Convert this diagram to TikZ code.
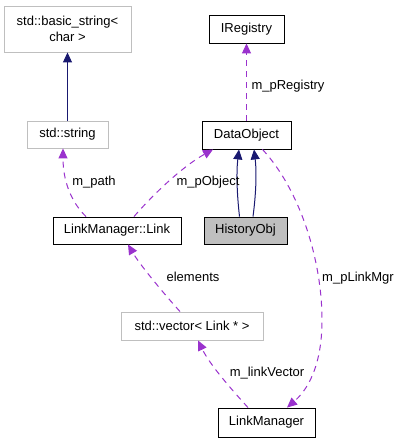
\documentclass[tikz,border=0pt]{standalone}
\usepackage{fontspec}
\setmainfont{Liberation Sans}
\usetikzlibrary{arrows.meta}
\definecolor{edgeblue}{HTML}{191970}
\definecolor{edgepurple}{HTML}{9A32CD}
\definecolor{boxgray}{HTML}{BFBFBF}

\begin{document}
\begin{tikzpicture}[x=1pt,y=-1pt,
    font=\fontsize{13}{15.5}\selectfont,
    cls/.style={draw=black,line width=0.9pt,fill=white,inner sep=0pt,align=center},
    ext/.style={cls,draw=boxgray},
    inh/.style={draw=edgeblue,line width=1pt,-{Triangle[length=10pt,width=9pt]}},
    use/.style={draw=edgepurple,line width=1pt,dash pattern=on 6pt off 5pt,
        -{Triangle[length=10pt,width=9pt]}},
    lbl/.style={inner sep=0pt}]
    \useasboundingbox (0,0) rectangle (400,443);

    % classes
    \node[ext,minimum width=127pt,minimum height=46pt] (basicstr) at (67.5,29) {std::basic\_string<\\char >};
    \node[ext,minimum width=81pt,minimum height=27pt] (stdstr) at (67.5,134.5) {std::string};
    \node[cls,minimum width=75pt,minimum height=28pt] (ireg) at (246.5,29) {IRegistry};
    \node[cls,minimum width=89pt,minimum height=28pt] (dataobj) at (246.5,135) {DataObject};
    \node[cls,minimum width=128pt,minimum height=27pt] (link) at (117,230.5) {LinkManager::Link};
    \node[cls,fill=boxgray,minimum width=83pt,minimum height=27pt] (histobj) at (245.5,230.5) {HistoryObj};
    \node[ext,minimum width=142pt,minimum height=28pt] (linkvec) at (192,326) {std::vector< Link * >};
    \node[cls,minimum width=97pt,minimum height=29pt] (linkmgr) at (266.5,422.5) {LinkManager};

    % inheritance
    \draw[inh] (stdstr) -- (basicstr);
    \draw[inh] ([xshift=-6pt]histobj.north) .. controls (236.5,190) and (236.5,170) .. ([xshift=-7.5pt]dataobj.south);
    \draw[inh] ([xshift=7.5pt]histobj.north) .. controls (256.5,190) and (256.5,170) .. ([xshift=7.5pt]dataobj.south);

    % members
    \draw[use] (dataobj) -- (ireg);
    \node[lbl] (lreg) at (288,86) {m\_pRegistry};
    \draw[use] ([xshift=-31pt]link.north) .. controls (74,205) and (63,185) .. ([xshift=-4.5pt]stdstr.south);
    \node[lbl] (lpath) at (94,182) {m\_path};
    \draw[use] ([xshift=17pt]link.north) .. controls (150,198) and (180,168) .. ([xshift=-33.5pt]dataobj.south);
    \node[lbl] (lobj) at (208,182) {m\_pObject};
    \draw[use] ([xshift=-12pt]linkvec.north) .. controls (165,295) and (140,265) .. ([xshift=11pt]link.south);
    \node[lbl] (lelem) at (193,277) {elements};
    \draw[use] ([xshift=-18.5pt]linkmgr.north) .. controls (232,390) and (210,365) .. ([xshift=6pt]linkvec.south);
    \node[lbl] (lvec) at (267,373) {m\_linkVector};
    \draw[use] ([xshift=16pt]dataobj.south) .. controls (300,190) and (322,260) .. (322,320)
        .. controls (322,370) and (305,392) .. ([xshift=20.5pt]linkmgr.north);
    \node[lbl] (lmgr) at (358,278) {m\_pLinkMgr};
\end{tikzpicture}
\end{document}
